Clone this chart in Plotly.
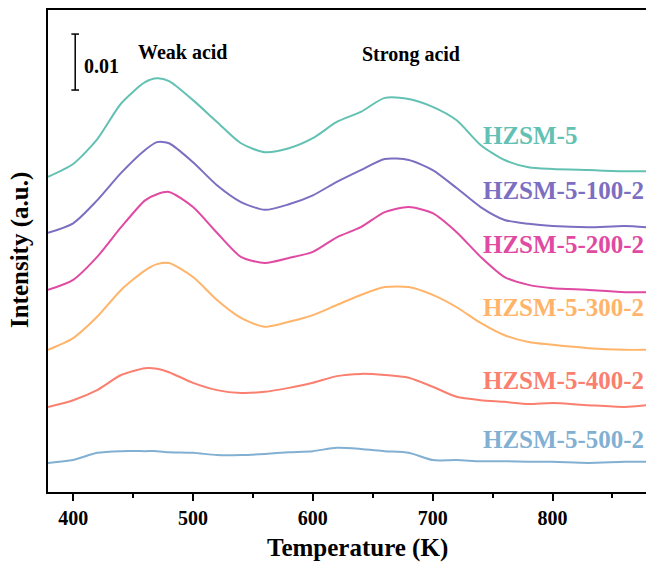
import plotly.graph_objects as go

# Temperature grid (K)
temperature = [379, 400, 420, 440, 460, 470, 480, 500, 520, 540, 560, 580, 600,
               620, 640, 660, 680, 700, 720, 740, 760, 780, 800, 830, 860, 878]

# Offset TPD signals (units of 0.001 a.u.)
hzsm5 = [56.3, 58.6, 63.0, 69.4, 73.2, 73.9, 73.4, 70.0, 66.1, 62.3, 60.7, 61.4, 63.2,
         66.1, 67.9, 70.4, 70.2, 68.8, 66.4, 62.0, 59.3, 58.0, 57.7, 57.5, 57.3, 57.3]
hzsm5_100 = [46.3, 48.0, 52.1, 57.0, 61.1, 62.5, 62.3, 58.9, 54.8, 51.8, 50.4, 51.4, 53.0,
             55.4, 57.5, 59.5, 59.3, 57.5, 54.3, 50.9, 48.6, 47.9, 47.5, 47.3, 47.5, 47.3]
hzsm5_200 = [36.1, 37.9, 42.0, 47.3, 52.1, 53.2, 53.6, 50.9, 46.3, 42.0, 40.9, 41.8, 42.9,
             45.5, 47.3, 50.0, 50.9, 49.8, 46.4, 42.0, 38.4, 37.0, 36.4, 36.1, 35.7, 35.7]
hzsm5_300 = [25.4, 27.5, 31.3, 36.1, 39.6, 40.7, 40.9, 38.4, 34.3, 31.1, 29.5, 30.4, 31.6,
             33.4, 35.2, 36.6, 36.6, 35.2, 33.0, 30.2, 28.0, 26.8, 26.3, 25.7, 25.4, 25.4]
hzsm5_400 = [15.2, 16.4, 18.2, 20.9, 22.1, 22.0, 21.4, 19.5, 18.2, 17.7, 17.9, 18.6, 19.5,
             20.7, 21.1, 20.9, 20.4, 18.8, 17.0, 16.4, 16.1, 15.7, 15.9, 15.5, 15.2, 15.5]
hzsm5_500 = [5.2, 5.7, 7.0, 7.3, 7.3, 7.3, 7.1, 7.0, 6.6, 6.6, 6.8, 7.1, 7.3,
             7.9, 7.7, 7.3, 7.0, 5.7, 5.7, 5.5, 5.5, 5.4, 5.4, 5.2, 5.4, 5.4]

names = ["HZSM-5", "HZSM-5-100-2", "HZSM-5-200-2", "HZSM-5-300-2", "HZSM-5-400-2", "HZSM-5-500-2"]
series = [hzsm5, hzsm5_100, hzsm5_200, hzsm5_300, hzsm5_400, hzsm5_500]
colors = ["#63C1B3", "#7C6EC0", "#E04AA2", "#FFB46A", "#FA7F6F", "#82B0D2"]
label_y = [63.6, 53.9, 44.3, 33.0, 20.0, 9.3]

FONT = "Liberation Serif"

fig = go.Figure()
for name, vals, col in zip(names, series, colors):
    fig.add_trace(go.Scatter(x=temperature, y=vals, mode="lines", name=name,
                             line=dict(color=col, width=2, shape="spline", smoothing=0.7),
                             showlegend=False))

for name, ly, col in zip(names, label_y, colors):
    fig.add_annotation(x=740, y=ly, text="<b>%s</b>" % name, showarrow=False,
                       xanchor="left", yanchor="middle",
                       font=dict(family=FONT, size=25, color=col))

fig.add_annotation(x=491, y=78.6, text="<b>Weak acid</b>", showarrow=False,
                   font=dict(family=FONT, size=20, color="black"))
fig.add_annotation(x=682, y=78.2, text="<b>Strong acid</b>", showarrow=False,
                   font=dict(family=FONT, size=20, color="black"))
fig.add_annotation(x=407, y=76.1, text="<b>0.01</b>", showarrow=False, xanchor="left",
                   font=dict(family=FONT, size=20, color="black"))

# scale bar (0.01 = 10 units)
fig.add_shape(type="line", x0=401.7, x1=401.7, y0=71.8, y1=81.8,
              line=dict(color="black", width=1.5))
fig.add_shape(type="line", x0=398.5, x1=404.9, y0=71.8, y1=71.8,
              line=dict(color="black", width=1.5))
fig.add_shape(type="line", x0=398.5, x1=404.9, y0=81.8, y1=81.8,
              line=dict(color="black", width=1.5))

fig.add_annotation(xref="paper", yref="paper", x=0, y=0.502, xshift=-28, xanchor="center",
                   text="<b>Intensity (a.u.)</b>", textangle=-90, showarrow=False,
                   font=dict(family=FONT, size=25, color="black"))
fig.add_annotation(xref="paper", yref="paper", x=0.517, y=0, yshift=-56, xanchor="center",
                   text="<b>Temperature (K)</b>", showarrow=False, yanchor="middle",
                   font=dict(family=FONT, size=25, color="black"))

fig.update_layout(
    width=646, height=563,
    margin=dict(l=48, r=0, t=10, b=71),
    plot_bgcolor="white", paper_bgcolor="white",
    xaxis=dict(range=[379, 878], tickvals=[400, 500, 600, 700, 800],
               ticktext=["<b>400</b>", "<b>500</b>", "<b>600</b>", "<b>700</b>", "<b>800</b>"],
               ticks="outside", ticklen=7, tickwidth=1.5, tickcolor="black",
               minor=dict(tickvals=[450, 550, 650, 750, 850], ticks="outside",
                          ticklen=4, tickwidth=1.5, tickcolor="black"),
               showline=True, linecolor="black", linewidth=2, mirror=True,
               showgrid=False, zeroline=False,
               tickfont=dict(family=FONT, size=20, color="black")),
    yaxis=dict(range=[0, 86.1], showticklabels=False, ticks="",
               showline=True, linecolor="black", linewidth=2, mirror=False,
               showgrid=False, zeroline=False),
)

fig.write_html("out.html", config={"displayModeBar": False})

# remove default page margins so the figure fills the window exactly
with open("out.html", "r", encoding="utf-8") as f:
    html = f.read()
html = html.replace("<head>", "<head><style>html,body{margin:0;padding:0;overflow:hidden;}</style>", 1)
with open("out.html", "w", encoding="utf-8") as f:
    f.write(html)
